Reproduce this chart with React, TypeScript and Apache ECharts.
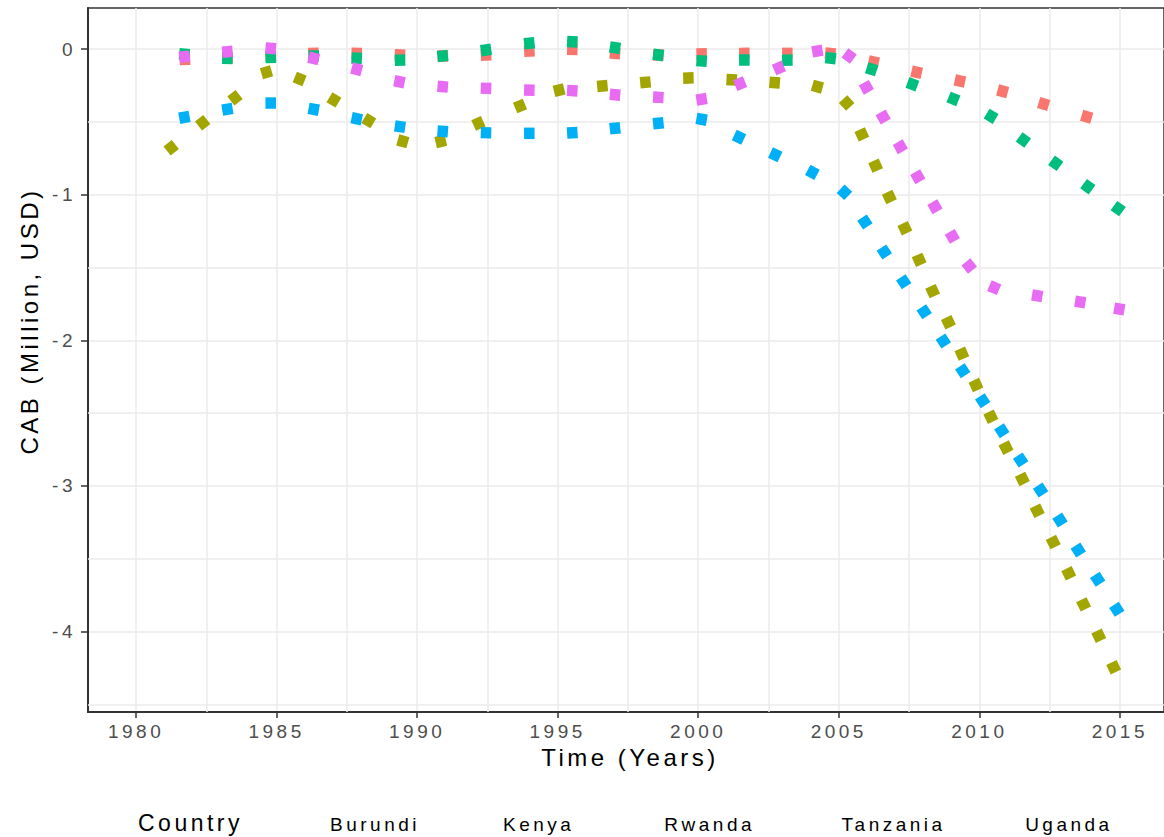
import React, { useEffect, useRef } from "react";
import * as echarts from "echarts";

// ---- data ----
const countries = ["Burundi", "Kenya", "Rwanda", "Tanzania", "Uganda"];
const colors = ["#F8766D", "#A3A500", "#00BF7D", "#00B0F6", "#E76BF3"];

const xTicks = [1980, 1985, 1990, 1995, 2000, 2005, 2010, 2015];
const yTicks = [-4, -3, -2, -1, 0];
const xMinorGrid = [1982.5, 1987.5, 1992.5, 1997.5, 2002.5, 2007.5, 2012.5];
const yMinorGrid = [-4.5, -3.5, -2.5, -1.5, -0.5];

const burundi: [number, number][] = [
  [1981.74, -0.071], [1983.25, -0.062], [1984.79, -0.048], [1986.31, -0.03], [1987.85, -0.03],
  [1989.39, -0.041], [1990.91, -0.048], [1992.45, -0.041], [1993.99, -0.014], [1995.52, -0.002],
  [1997.04, -0.03], [1998.58, -0.041], [2000.12, -0.034], [2001.64, -0.03], [2003.17, -0.03],
  [2004.7, -0.03], [2006.24, -0.089], [2007.77, -0.16], [2009.31, -0.22], [2010.83, -0.29],
  [2012.29, -0.378], [2013.82, -0.465],
];

const kenya: [number, number][] = [
  [1981.25, -0.678], [1982.37, -0.506], [1983.52, -0.334], [1984.64, -0.16], [1985.82, -0.206],
  [1987.04, -0.35], [1988.28, -0.492], [1989.49, -0.634], [1990.84, -0.634], [1992.18, -0.51],
  [1993.66, -0.391], [1995.05, -0.282], [1996.59, -0.254], [1998.12, -0.229], [1999.65, -0.199],
  [2001.19, -0.211], [2002.72, -0.231], [2004.24, -0.259], [2005.28, -0.371], [2005.82, -0.586],
  [2006.31, -0.801], [2006.8, -1.016], [2007.35, -1.231], [2007.86, -1.447], [2008.34, -1.662],
  [2008.9, -1.876], [2009.38, -2.092], [2009.88, -2.307], [2010.41, -2.525], [2010.95, -2.737],
  [2011.53, -2.952], [2012.06, -3.17], [2012.63, -3.385], [2013.18, -3.6], [2013.71, -3.813],
  [2014.25, -4.028], [2014.78, -4.245],
];

const rwanda: [number, number][] = [
  [1981.72, -0.036], [1983.25, -0.064], [1984.79, -0.057], [1986.32, -0.048], [1987.85, -0.064],
  [1989.39, -0.076], [1990.91, -0.048], [1992.45, -0.007], [1993.99, 0.039], [1995.52, 0.05],
  [1997.04, 0.009], [1998.58, -0.041], [2000.12, -0.082], [2001.64, -0.076], [2003.17, -0.076],
  [2004.71, -0.063], [2006.17, -0.139], [2007.62, -0.242], [2009.08, -0.343], [2010.42, -0.462],
  [2011.57, -0.625], [2012.72, -0.785], [2013.86, -0.945], [2014.94, -1.096],
];

const tanzania: [number, number][] = [
  [1981.72, -0.469], [1983.25, -0.414], [1984.79, -0.371], [1986.32, -0.414], [1987.85, -0.479],
  [1989.39, -0.533], [1990.91, -0.565], [1992.45, -0.575], [1993.99, -0.579], [1995.52, -0.575],
  [1997.04, -0.544], [1998.58, -0.51], [2000.12, -0.483], [2001.45, -0.606], [2002.74, -0.726],
  [2004.06, -0.847], [2005.2, -0.984], [2005.93, -1.188], [2006.62, -1.394], [2007.31, -1.598],
  [2008.04, -1.804], [2008.72, -2.005], [2009.41, -2.209], [2010.12, -2.415], [2010.8, -2.621],
  [2011.47, -2.822], [2012.18, -3.028], [2012.87, -3.234], [2013.52, -3.44], [2014.21, -3.641],
  [2014.89, -3.847],
];

const uganda: [number, number][] = [
  [1981.72, -0.053], [1983.25, -0.019], [1984.79, 0.005], [1986.32, -0.064], [1987.85, -0.139],
  [1989.37, -0.225], [1990.91, -0.259], [1992.45, -0.27], [1993.99, -0.282], [1995.52, -0.286],
  [1997.04, -0.314], [1998.58, -0.332], [2000.12, -0.345], [2001.49, -0.238], [2002.87, -0.13],
  [2004.24, -0.014], [2005.37, -0.048], [2005.98, -0.263], [2006.58, -0.467], [2007.19, -0.671],
  [2007.81, -0.877], [2008.42, -1.083], [2009.04, -1.286], [2009.64, -1.49], [2010.53, -1.639],
  [2012.06, -1.694], [2013.59, -1.737], [2014.98, -1.785],
];

const seriesData = [burundi, kenya, rwanda, tanzania, uganda];

// ---- layout ----
const W = 1164;
const H = 837;
const GRID = { left: 88, top: 8, width: 1076, height: 704 };
const X_MIN = 1978.29;
const X_MAX = 2016.57;
const Y_MIN = -4.552;
const Y_MAX = 0.2815;
const PX_YEAR = GRID.width / (X_MAX - X_MIN);
const PX_VAL = GRID.height / (Y_MAX - Y_MIN);
const FONT = "Liberation Sans, Arial, Helvetica, sans-serif";

function dotAngles(pts: [number, number][]): number[] {
  return pts.map((_, i) => {
    const p = pts[Math.max(0, i - 1)];
    const n = pts[Math.min(pts.length - 1, i + 1)];
    const dx = (n[0] - p[0]) * PX_YEAR;
    const dy = (n[1] - p[1]) * PX_VAL;
    return (Math.atan2(dy, dx) * 180) / Math.PI;
  });
}

export default function App() {
  const ref = useRef<HTMLDivElement>(null);

  useEffect(() => {
    if (!ref.current) return;
    const chart = echarts.init(ref.current, undefined, { renderer: "svg" });

    const series: any[] = seriesData.map((pts, si) => {
      const angles = dotAngles(pts);
      return {
        name: countries[si],
        type: "line",
        data: pts,
        z: 3,
        clip: false,
        showSymbol: true,
        showAllSymbol: true,
        symbol: "rect",
        symbolSize: [10.5, 11.5],
        symbolRotate: (_v: any, params: any) => angles[params.dataIndex],
        itemStyle: { color: colors[si] },
        lineStyle: { opacity: 0, width: 0 },
        emphasis: { disabled: true },
      };
    });

    series.unshift({
      name: "grid-minor",
      type: "line",
      data: [],
      z: 1,
      silent: true,
      markLine: {
        z: 1,
        silent: true,
        symbol: ["none", "none"],
        label: { show: false },
        lineStyle: { color: "#EBEBEB", width: 1.5, type: "solid" },
        emphasis: { disabled: true },
        data: [
          ...xMinorGrid.map((v) => ({ xAxis: v })),
          ...yMinorGrid.map((v) => ({ yAxis: v })),
        ],
      },
    });

    chart.setOption({
      animation: false,
      backgroundColor: "#ffffff",
      grid: {
        ...GRID,
        show: true,
        borderColor: "#333333",
        borderWidth: 1.5,
        backgroundColor: "transparent",
        containLabel: false,
      },
      xAxis: {
        type: "value",
        min: X_MIN,
        max: X_MAX,
        minInterval: 5,
        maxInterval: 5,
        axisLine: { show: true, onZero: false, lineStyle: { color: "#333333", width: 2 } },
        axisTick: { show: true, length: 6, customValues: xTicks, lineStyle: { color: "#333333", width: 1.5 } },
        axisLabel: {
          customValues: xTicks,
          margin: 10,
          color: "#4D4D4D",
          fontSize: 19,
          fontFamily: FONT,
          formatter: (v: number) => String(v),
        },
        splitLine: { show: true, lineStyle: { color: "#EBEBEB", width: 1.5 } },
      },
      yAxis: {
        type: "value",
        min: Y_MIN,
        max: Y_MAX,
        minInterval: 1,
        maxInterval: 1,
        axisLine: { show: true, onZero: false, lineStyle: { color: "#333333", width: 2 } },
        axisTick: { show: true, length: 7, customValues: yTicks, lineStyle: { color: "#333333", width: 1.5 } },
        axisLabel: {
          customValues: yTicks,
          margin: 12,
          color: "#4D4D4D",
          fontSize: 19,
          fontFamily: FONT,
          formatter: (v: number) => String(v),
        },
        splitLine: { show: true, lineStyle: { color: "#EBEBEB", width: 1.5 } },
      },
      legend: {
        data: countries,
        orient: "horizontal",
        left: 325,
        top: 814,
        padding: 0,
        icon: "none",
        itemWidth: 0,
        itemHeight: 20,
        itemGap: 102.5,
        selectedMode: false,
        textStyle: { color: "#000000", fontSize: 19, fontFamily: FONT },
      },
      graphic: [
        {
          type: "text",
          x: 29,
          y: 321,
          rotation: Math.PI / 2,
          style: {
            text: "CAB (Million, USD)",
            fill: "#000000",
            font: `24px ${FONT}`,
            textAlign: "center",
            textVerticalAlign: "middle",
          },
        },
        {
          type: "text",
          x: 630,
          y: 757,
          style: {
            text: "Time (Years)",
            fill: "#000000",
            font: `24px ${FONT}`,
            textAlign: "center",
            textVerticalAlign: "middle",
          },
        },
        {
          type: "text",
          x: 138,
          y: 823,
          style: {
            text: "Country",
            fill: "#000000",
            font: `23px ${FONT}`,
            textAlign: "left",
            textVerticalAlign: "middle",
          },
        },
      ],
      series,
    });

    return () => chart.dispose();
  }, []);

  return (
    <>
      <style>{`#cab-chart svg text { letter-spacing: 3.5px; }`}</style>
      <div
        id="cab-chart"
        ref={ref}
        style={{ position: "fixed", left: 0, top: 0, width: W, height: H, background: "#fff" }}
      />
    </>
  );
}
